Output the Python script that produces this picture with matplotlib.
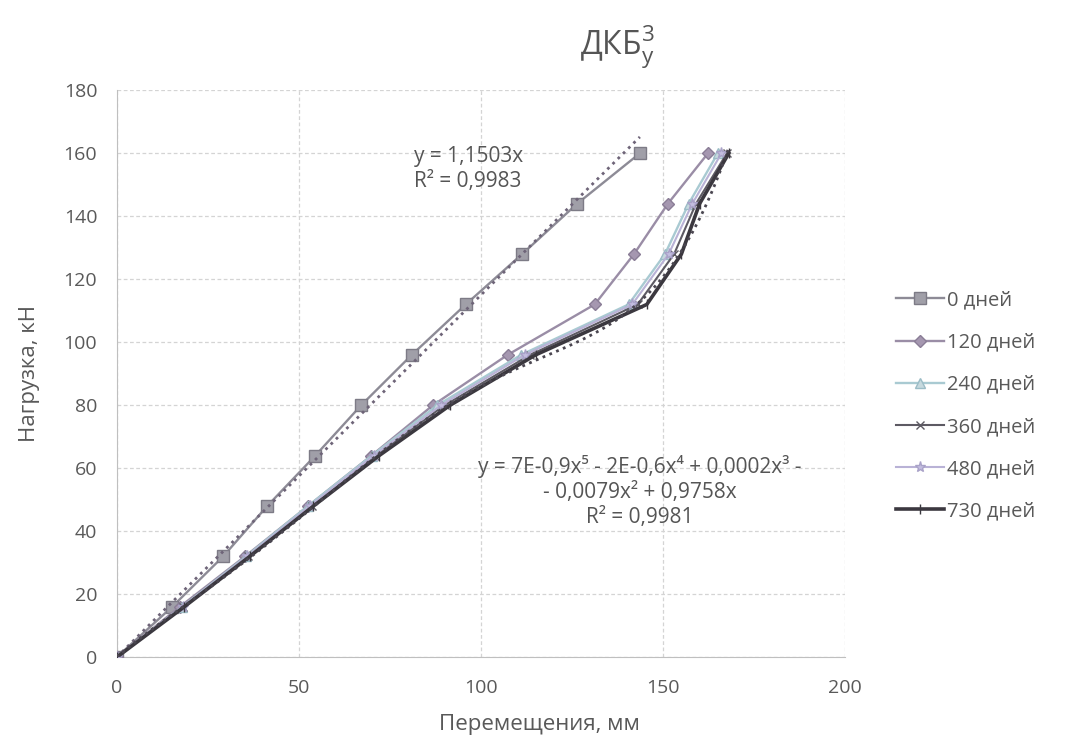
import numpy as np
import matplotlib
matplotlib.use('Agg')
import matplotlib.pyplot as plt

plt.rcParams['font.family'] = ['Open Sans', 'DejaVu Sans']
plt.rcParams['mathtext.fontset'] = 'custom'
plt.rcParams['mathtext.rm'] = 'Open Sans'

# load steps, kN
loads = [0, 16, 32, 48, 64, 80, 96, 112, 128, 144, 160]

# displacement, mm, per exposure age
disp_0 = [0, 15.2, 29.2, 41.3, 54.5, 67.1, 81.0, 95.8, 111.3, 126.4, 143.6]
disp_120 = [0, 17.3, 35.2, 52.5, 69.9, 86.8, 107.3, 131.2, 142.0, 151.3, 162.3]
disp_240 = [0, 18.0, 35.5, 52.5, 70.0, 88.0, 111.0, 140.5, 150.5, 157.0, 165.0]
disp_360 = [0, 18.3, 36.0, 53.5, 71.0, 90.0, 113.5, 143.0, 153.0, 159.0, 167.5]
disp_480 = [0, 18.1, 35.8, 53.0, 70.5, 89.0, 112.0, 141.5, 151.5, 158.0, 166.0]
disp_730 = [0, 18.5, 36.5, 54.0, 72.0, 91.5, 115.0, 145.5, 155.0, 160.0, 168.0]

series = ['0 дней', '120 дней', '240 дней', '360 дней', '480 дней', '730 дней']

lin_slope = 1.1503
lin_label = 'y = 1,1503x\nR² = 0,9983'
poly_label = ('y = 7E-0,9x⁵ - 2E-0,6x⁴ + 0,0002x³ -\n'
              '- 0,0079x² + 0,9758x\nR² = 0,9981')

styles = [
    dict(color='#8d8b96', marker='s', ms=9, lw=1.7, mfc='#a09fa8', mec='#7d7b86'),
    dict(color='#9a8da6', marker='D', ms=6, lw=1.7, mfc='#a597b0', mec='#8a7d96'),
    dict(color='#a9cad2', marker='^', ms=7, lw=1.7, mfc='#c6d9de', mec='#9bbcc6'),
    dict(color='#5d5a63', marker='x', ms=6, lw=1.5, mfc='#5d5a63', mec='#5d5a63'),
    dict(color='#b9b2d6', marker='*', ms=8, lw=1.5, mfc='#c3bde0', mec='#a9a2c8'),
    dict(color='#3b383f', marker='|', ms=7, lw=2.6, mfc='#3b383f', mec='#3b383f'),
]

fig = plt.figure(figsize=(10.81, 7.46), dpi=100)
ax = fig.add_axes([0.108, 0.119, 0.674, 0.76])

all_disp = [disp_0, disp_120, disp_240, disp_360, disp_480, disp_730]
handles = []
for name, xs, st in zip(series, all_disp, styles):
    h, = ax.plot(xs, loads, label=name, zorder=3, **st)
    handles.append(h)

# linear trend (through origin) for the 0-day series
x_lin = np.array([0, disp_0[-1]])
ax.plot(x_lin, lin_slope * x_lin, color='#6e6478', ls=':', lw=2.0, zorder=4)

# 5th-order polynomial trend (zero intercept) for the 730-day series
x730 = np.array(disp_730)
y730 = np.array(loads, dtype=float)
A = np.vstack([x730 ** p for p in range(5, 0, -1)]).T
coef, *_ = np.linalg.lstsq(A, y730, rcond=None)
xf = np.linspace(0, x730[-1], 200)
yf = np.vstack([xf ** p for p in range(5, 0, -1)]).T @ coef
ax.plot(xf, yf, color='#4a4650', ls=':', lw=2.0, zorder=4)

ax.text(81.5, 155, lin_label, fontsize=15, color='#555555',
        ha='left', va='center', linespacing=1.3)
ax.text(143.5, 52.5, poly_label, fontsize=15, color='#555555',
        ha='center', va='center', linespacing=1.25)

ax.set_xlim(0, 200)
ax.set_ylim(0, 180)
ax.set_xticks([0, 50, 100, 150, 200])
ax.set_yticks(range(0, 181, 20))
ax.grid(True, color='#d4d4d4', lw=0.9, ls=(0, (3, 2)))
ax.set_axisbelow(True)
for side in ['top', 'right']:
    ax.spines[side].set_visible(False)
for side in ['left', 'bottom']:
    ax.spines[side].set_color('#bfbfbf')
ax.tick_params(length=0, labelsize=14, colors='#595959')
ax.tick_params(axis='x', pad=16)
ax.tick_params(axis='y', pad=14)

ax.set_xlabel('Перемещения, мм', fontsize=16, color='#595959')
ax.xaxis.set_label_coords(0.58, -0.1)
ax.set_ylabel('Нагрузка, кН', fontsize=16, color='#595959')
ax.yaxis.set_label_coords(-0.105, 0.5)

fig.text(0.571, 0.938, 'ДКБ$_\\mathregular{у}^\\mathregular{3}$', fontsize=23,
         color='#555555', ha='center', va='center')

fig.legend(handles=handles, loc='center left', bbox_to_anchor=(0.812, 0.456),
           frameon=False, fontsize=14.5, labelcolor='#595959',
           handlelength=2.4, handletextpad=0.15, labelspacing=1.1)

fig.savefig('out.png', dpi=100)
